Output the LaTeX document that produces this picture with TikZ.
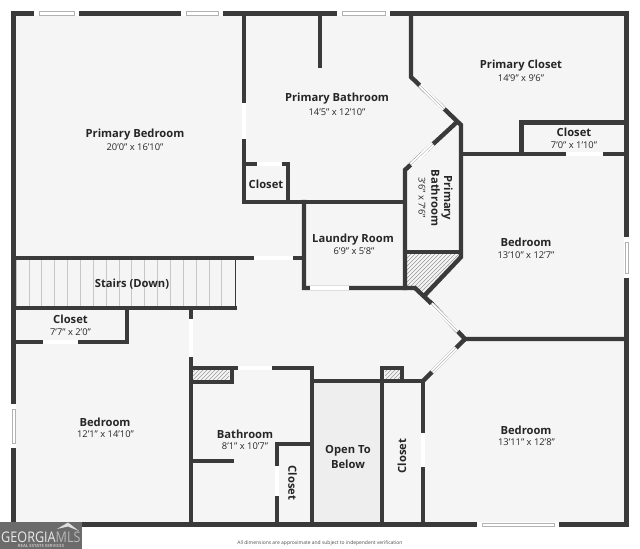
\documentclass[tikz,border=0pt]{standalone}
\usepackage{fontspec}
\setmainfont{Open Sans}
\usetikzlibrary{patterns}
\definecolor{wallc}{HTML}{3A3A3A}
\definecolor{floorc}{HTML}{F5F5F5}
\definecolor{openc}{HTML}{EEEEEE}
\definecolor{logoc}{HTML}{6B6B6B}
\tikzset{
 outerwall/.style={draw=wallc,line width=3.6pt,line cap=butt},
 wall/.style={draw=wallc,line width=3.3pt,line cap=rect,line join=miter},
 thinwall/.style={draw=wallc,line width=1pt,line cap=butt},
 gapw/.style={draw=white,line width=3.4pt,line cap=butt},
 winw/.style={draw=white,line width=3.8pt,line cap=butt},
 wini/.style={draw=black!30,line width=0.3pt},
 stairl/.style={draw=black!22,line width=0.6pt},
 hatchf/.style={pattern=north east lines,pattern color=black!40},
 rname/.style={yshift=-0.7pt,font=\fontsize{8.4pt}{10pt}\selectfont\bfseries,text=black!85,inner sep=0pt,align=center},
 rsize/.style={yshift=-0.5pt,font=\fontsize{7pt}{8pt}\selectfont,text=black!85,inner sep=0pt},
}
\begin{document}
\begin{tikzpicture}[x=0.75pt,y=-0.75pt]
\useasboundingbox (0,0) rectangle (640,549);
\fill[white] (0,0) rectangle (640,549);
\fill[floorc] (13,13) rectangle (627,525);
\fill[openc] (314,383) rectangle (381,523);
% stairs
\foreach \k in {0,...,15}{\draw[stairl] ({29+12.85*\k},260) -- ({29+12.85*\k},306);}
\draw[stairl] (16,260)--(16,306);
% hatches
\fill[hatchf] (193,371) rectangle (229,380);
\fill[hatchf] (385,371) rectangle (400,379);
\fill[hatchf] (407,254) -- (460,254) -- (425,293) -- (415,286) -- (407,286) -- cycle;
% outer walls
\draw[outerwall,line join=miter] (13.5,13.5) rectangle (626.5,524.7);
% interior walls
\draw[wall] (244,14) -- (244,202) -- (403,202);
\draw[wall] (244,164) -- (288,164) -- (288,202);
\draw[wall] (320,14) -- (320,66);
\draw[wall] (304,202) -- (304,288) -- (415,288) -- (431,303);
\draw[wall] (14,258) -- (304,258);
\draw[wall] (14,308) -- (234.5,308);
\draw[thinwall] (235.8,258) -- (235.8,310);
\draw[wall] (127,308) -- (127,342) -- (14,342);
\draw[wall] (191,308) -- (191,524);
\draw[wall] (191,368) -- (312,368) -- (312,524);
\draw[wall] (191,382) -- (232,382) -- (232,368);
\draw[wall] (191,461) -- (232,461);
\draw[wall] (312,381) -- (423,381) -- (423,524);
\draw[wall] (382,381) -- (382,368) -- (402,368) -- (402,381);
\draw[wall] (382,381) -- (382,524);
\draw[wall] (277,444) -- (312,444);
\draw[wall] (277,444) -- (277,524);
\draw[wall] (423,381) -- (465,339) -- (626,339);
\draw[wall] (431,303) -- (465,339);
\draw[wall] (461,154) -- (626,154);
\draw[wall] (521.5,154) -- (521.5,122.5) -- (626,122.5);
\draw[wall] (411,14) -- (411,77) -- (461,125) -- (461,257) -- (425,295);
\draw[wall] (405,288) -- (405,170) -- (457,122);
\draw[wall] (405,252) -- (461,252);
% door gaps
\draw[gapw] (244,103) -- (244,139);
\draw[gapw] (257,164) -- (282,164);
\draw[gapw] (254,258) -- (293,258);
\draw[gapw] (310,288) -- (349,288);
\draw[gapw] (43,342) -- (78,342);
\draw[gapw] (191,319) -- (191,357);
\draw[gapw] (238,368) -- (272,368);
\draw[gapw] (277,466) -- (277,496);
\draw[gapw] (423,433) -- (423,467);
\draw[gapw] (566,154) -- (603,154);
\draw[gapw] (420,85) -- (444,109);
\draw[wini] (420,85) -- (444,109);
\draw[gapw] (411,165) -- (433,144);
\draw[wini] (411,165) -- (433,144);
\draw[gapw] (431,304) -- (458,331);
\draw[wini] (431,304) -- (458,331);
\draw[gapw] (432,372) -- (456,348);
\draw[wini] (432,372) -- (456,348);
% windows
\foreach \a/\b in {34/79,181/223,337/390,477/559}{
 \pgfmathsetmacro{\yy}{\b==559?524.7:13.5}
 \draw[winw] (\a,\yy) -- (\b,\yy);
 \draw[wini] (\a+5,\yy-1.8) rectangle (\b-5,\yy+1.8);
}
\draw[winw] (13.5,404) -- (13.5,448);
\draw[wini] (11.7,409) rectangle (15.3,443);
\draw[winw] (626.5,237) -- (626.5,278);
\draw[wini] (624.7,242) rectangle (628.3,273);
% labels
\node[rname] (n1) at (135,134) {Primary Bedroom};
\node[rsize] (s1) at (135,146.5) {20'0" x 16'10"};
\node[rname] (n2) at (337,98) {Primary Bathroom};
\node[rsize] (s2) at (337,111) {14'5" x 12'10"};
\node[rname] (n3) at (266,183) {Closet};
\node[rname] (n4) at (353,238.5) {Laundry Room};
\node[rsize] (s4) at (354,251) {6'9" x 5'8"};
\node[rname] (n5) at (521,65) {Primary Closet};
\node[rsize] (s5) at (521,78) {14'9" x 9'6"};
\node[rname] (n6) at (574,131.5) {Closet};
\node[rsize] (s6) at (574,144) {7'0" x 1'10"};
\node[rname,rotate=-90] (n7) at (442,197) {Primary\\[-0.4pt]Bathroom};
\node[rsize,rotate=-90] (s7) at (422,197) {3'6" x 7'6"};
\node[rname] (n8) at (526,241.5) {Bedroom};
\node[rsize] (s8) at (526,254) {13'10" x 12'7"};
\node[rname] (n9) at (132,283) {Stairs (Down)};
\node[rname] (n10) at (70.5,318) {Closet};
\node[rsize] (s10) at (70.5,331) {7'7" x 2'0"};
\node[rname] (n11) at (105,421) {Bedroom};
\node[rsize] (s11) at (105.5,433.5) {12'1" x 14'10"};
\node[rname] (n12) at (245,433) {Bathroom};
\node[rsize] (s12) at (245,445.5) {8'1" x 10'7"};
\node[rname,rotate=-90] (n13) at (292.5,482) {Closet};
\node[rname] (n14) at (348,456) {Open To\\[1.2pt]Below};
\node[rname,rotate=90] (n15) at (402,455) {Closet};
\node[rname] (n16) at (526,429) {Bedroom};
\node[rsize] (s16) at (526.5,441.5) {13'11" x 12'8"};
% logo
\fill[logoc] (0,522) rectangle (82,549);
\fill[white!88!black] (57,529) -- (68,522.5) -- (79,531) -- (68,526.5) -- cycle;
\node[inner sep=0pt,anchor=west,text=white!92!black,xscale=0.86,font=\fontsize{11pt}{12pt}\selectfont] (lg) at (1,537.5) {GEORGIA\textcolor{white!72!black}{MLS}};
\node[inner sep=0pt,text=white!75!black,font=\fontsize{3.2pt}{4pt}\selectfont\bfseries] (lg2) at (41,546) {REAL ESTATE SERVICES};
\node[inner sep=0pt,text=black!70,font=\fontsize{3.72pt}{5pt}\selectfont] (foot) at (320,543.5) {All dimensions are approximate and subject to independent verification};
\end{tikzpicture}
\end{document}
